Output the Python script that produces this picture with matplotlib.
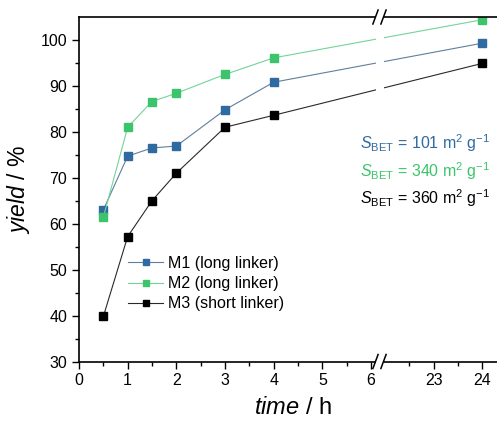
import numpy as np
import matplotlib
matplotlib.use('Agg')
import matplotlib.pyplot as plt
from matplotlib.patches import Rectangle
from matplotlib.lines import Line2D

plt.rcParams['font.family'] = ['Liberation Sans', 'DejaVu Sans']
plt.rcParams['mathtext.fontset'] = 'custom'
plt.rcParams['mathtext.rm'] = 'Liberation Sans'
plt.rcParams['mathtext.it'] = 'Liberation Sans:italic'
plt.rcParams['mathtext.bf'] = 'Liberation Sans:bold'

# ---- data ----
time_h = [0.5, 1, 1.5, 2, 3, 4, 24]
m1 = [63.0, 74.7, 76.5, 76.9, 84.8, 90.8, 99.3]
m2 = [61.4, 81.0, 86.6, 88.4, 92.5, 96.1, 104.4]
m3 = [39.8, 57.2, 65.0, 71.0, 81.0, 83.6, 94.9]
series_labels = ['M1 (long linker)', 'M2 (long linker)', 'M3 (short linker)']
sbet_values = [101, 340, 360]
x_major = [0, 1, 2, 3, 4, 5, 6, 23, 24]
x_minor = [0.5, 1.5, 2.5, 3.5, 4.5, 5.5, 22.5, 23.5]
y_major = [30, 40, 50, 60, 70, 80, 90, 100]
y_minor = [35, 45, 55, 65, 75, 85, 95]

marker_colors = ['#2f6aa0', '#3cc46c', '#000000']
line_colors = ['#5f7f9c', '#74d39a', '#2a2a2a']

# ---- broken axis scale ----
BRK_LO, BRK_HI = 6.185, 21.9
_src = [-100.0, BRK_LO, BRK_HI, 200.0]
_dst = [-100.0, BRK_LO, BRK_LO + 0.001, 200.0 - (BRK_HI - BRK_LO) + 0.001]

def fwd(x):
    return np.interp(x, _src, _dst)

def inv(y):
    return np.interp(y, _dst, _src)

fig = plt.figure(figsize=(4.97, 4.24), dpi=100)
ax_w_px = 427.6
ax_h_px = 344.5
ax = fig.add_axes([79 / 497, 1 - 361.5 / 424, ax_w_px / 497, ax_h_px / 424])
ax.set_xscale('function', functions=(fwd, inv))

for ys, lab, mc, lc in zip([m1, m2, m3], series_labels, marker_colors, line_colors):
    ax.plot(time_h, ys, '-', color=lc, lw=0.8, marker='s', ms=6.3,
            mfc=mc, mec=mc, label=lab, zorder=2)

ax.set_xlim(0, 24.5)
ax.set_ylim(30, 105)
ax.set_xticks(x_major)
ax.set_xticks(x_minor, minor=True)
ax.set_yticks(y_major)
ax.set_yticks(y_minor, minor=True)
ax.tick_params(which='both', direction='out', labelsize=11.5, width=1.0,
               top=False, right=False)
ax.tick_params(which='major', length=5)
ax.tick_params(which='minor', length=3)
ax.spines['right'].set_visible(False)
for s in ['left', 'bottom', 'top']:
    ax.spines[s].set_linewidth(1.2)

ax.set_xlabel(r'$\mathit{time}$ / h', fontsize=17, labelpad=6)
ax.set_ylabel(r'$\mathit{yield}$ / %', fontsize=16.5, labelpad=6)

# ---- break marks ----
cx1 = (375.5 - 79) / ax_w_px
cx2 = (383.5 - 79) / ax_w_px
ax.add_patch(Rectangle((cx1, -0.006), cx2 - cx1, 1.012, transform=ax.transAxes,
                       facecolor='white', edgecolor='none', zorder=2.6, clip_on=False))
dx = 2.6 / ax_w_px
dy = 7.0 / ax_h_px
for yb in (0.0, 1.0):
    for cx in (cx1, cx2):
        ax.add_line(Line2D([cx - dx, cx + dx], [yb - dy, yb + dy], transform=ax.transAxes,
                           color='black', lw=1.1, zorder=3, clip_on=False))

# ---- legend ----
leg = ax.legend(loc='upper left', bbox_to_anchor=((128 - 79) / ax_w_px, 1 - (256 - 17) / ax_h_px),
                frameon=False, fontsize=11.5, handlelength=2.2, handletextpad=0.3,
                labelspacing=0.32, borderaxespad=0, borderpad=0, markerscale=0.75)

# ---- S_BET annotations ----
baselines = [149, 176.5, 204]
for val, col, yb in zip(sbet_values, marker_colors, baselines):
    fig.text(360 / 497, 1 - yb / 424,
             r'$S_{\mathrm{BET}}$ = %d m$^{2}$ g$^{-1}$' % val,
             color=col, fontsize=11.5, ha='left', va='baseline')

fig.savefig('out.png', dpi=100)
